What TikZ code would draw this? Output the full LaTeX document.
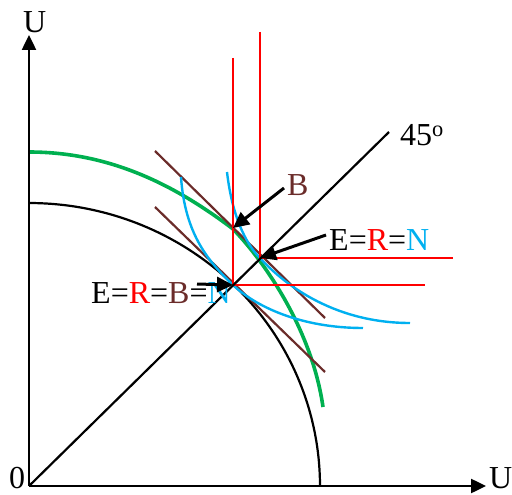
\documentclass[tikz,border=0pt]{standalone}
\usepackage{fontspec}
\setmainfont{Liberation Serif}
\usetikzlibrary{arrows.meta}
\definecolor{myred}{RGB}{255,0,0}
\definecolor{myblue}{RGB}{0,176,240}
\definecolor{mygreen}{RGB}{0,176,80}
\definecolor{mybrown}{RGB}{107,44,42}
\begin{document}
\begin{tikzpicture}[x=1pt,y=-1pt,
  lbl/.style={font=\fontsize{32}{36}\selectfont, inner sep=0pt, anchor=base west},
  axis/.style={line width=2.5pt, -{Triangle[length=15pt,width=14pt]}},
  pointer/.style={line width=3pt, -{Triangle[length=16pt,width=15pt]}},
  redline/.style={myred, line width=2.2pt},
  brownline/.style={mybrown, line width=2.2pt},
  blueline/.style={myblue, line width=2.4pt},
  greenline/.style={mygreen, line width=3.6pt},
  thin/.style={black, line width=2.2pt}]
\useasboundingbox (0,0) rectangle (512,495);
% key points
\coordinate (O) at (29,486);
\coordinate (Yt) at (29,35);
\coordinate (Xt) at (486,486);
\coordinate (Bp) at (233,228);
\coordinate (P2) at (260,258);
\coordinate (P1) at (233,285);
\coordinate (L45) at (389,132);
% black frontier
\draw[thin] plot[domain=0:90, samples=80] ({29+291*cos(\x)}, {486-283*sin(\x)});
% green frontier
\draw[greenline] (29,152) .. controls (110,152) and (175,185) .. (233,229)
  .. controls (265,262) and (312,330) .. (323,407);
% brown tangents
\coordinate (b1s) at (155,151); \coordinate (b1e) at (325,318);
\coordinate (b2s) at (155,207); \coordinate (b2e) at (325,372);
\draw[brownline] (b1s) -- (b1e);
\draw[brownline] (b2s) -- (b2e);
% blue indifference curves
\draw[blueline] (227,172) .. controls (232,215) and (245,243) .. (P2)
  .. controls (280,280) and (330,323) .. (410,323);
\draw[blueline] (181,177) .. controls (185,235) and (209,262) .. (P1)
  .. controls (255,306) and (300,328) .. (363,328);
% red lines
\coordinate (r1t) at (233,58); \coordinate (r1r) at (425,285);
\coordinate (r2t) at (260,32); \coordinate (r2r) at (453,258);
\draw[redline] (r1t) -- (P1) -- (r1r);
\draw[redline] (r2t) -- (P2) -- (r2r);
% 45 degree line
\draw[thin] (O) -- (L45);
% axes
\draw[axis] (O) -- (Yt);
\draw[axis] (O) -- (Xt);
% labels
\node[lbl] (uy) at (23,33) {U};
\node[lbl] (ux) at (489,488) {U};
\node[lbl] (zero) at (9,488) {0};
\node[lbl] (fortyfive) at (400,146) {45\textsuperscript{o}};
\node[lbl, text=mybrown] (blbl) at (287,195) {B};
\node[lbl] (ern) at (329,250) {E=\textcolor{myred}{R}=\textcolor{myblue}{N}};
\node[lbl] (erbn) at (91,303) {E=\textcolor{myred}{R}=\textcolor{mybrown}{B}=\textcolor{myblue}{N}};
% pointers
\coordinate (a1) at (284,188);
\coordinate (a2) at (326,235);
\coordinate (a3) at (197,284);
\draw[pointer] (a1) -- (Bp);
\draw[pointer] (a2) -- (P2);
\draw[pointer] (a3) -- (P1);
\end{tikzpicture}
\end{document}
